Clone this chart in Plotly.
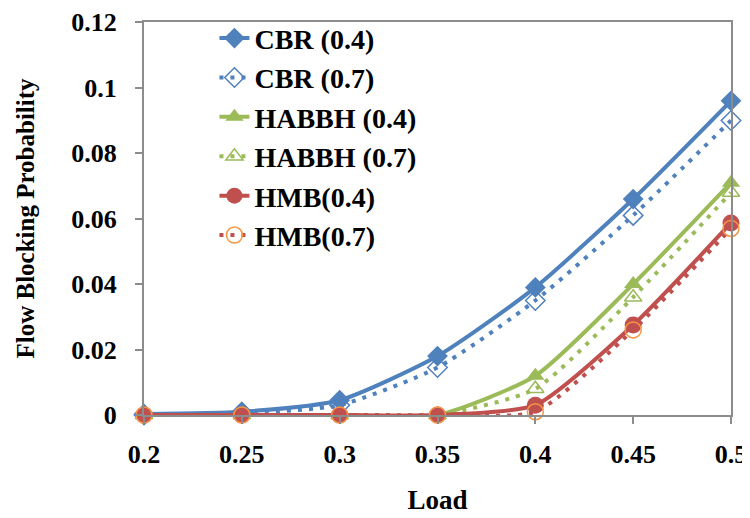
import plotly.graph_objects as go

load = [0.2, 0.25, 0.3, 0.35, 0.4, 0.45, 0.5]
load_labels = ["0.2", "0.25", "0.3", "0.35", "0.4", "0.45", "0.5"]
prob_ticks = [0, 0.02, 0.04, 0.06, 0.08, 0.1, 0.12]
prob_labels = ["0", "0.02", "0.04", "0.06", "0.08", "0.1", "0.12"]
cbr_04 = [0.0003, 0.001, 0.0045, 0.018, 0.039, 0.066, 0.096]
cbr_07 = [0.0, 0.0005, 0.003, 0.0145, 0.035, 0.061, 0.090]
habbh_04 = [0.0, 0.0, 0.0, 0.0, 0.012, 0.040, 0.071]
habbh_07 = [0.0, 0.0, 0.0, 0.0, 0.008, 0.036, 0.068]
hmb_04 = [0.0, 0.0, 0.0, 0.0, 0.003, 0.0275, 0.0587]
hmb_07 = [0.0, 0.0, 0.0, 0.0, 0.001, 0.026, 0.057]

BLUE = "#4F81BD"
GREEN = "#9BBB59"
RED = "#C0504D"
ORANGE = "#F79646"

series = [
    ("CBR (0.4)", cbr_04, BLUE, "solid", dict(symbol="diamond", size=16, color=BLUE)),
    ("CBR (0.7)", cbr_07, BLUE, "4px,7px", dict(symbol="diamond-open", size=15, color=BLUE, line=dict(width=1.5, color=BLUE))),
    ("HABBH (0.4)", habbh_04, GREEN, "solid", dict(symbol="triangle-up", size=16, color=GREEN)),
    ("HABBH (0.7)", habbh_07, GREEN, "4px,7px", dict(symbol="triangle-up-open", size=15, color=GREEN, line=dict(width=1.5, color=GREEN))),
    ("HMB(0.4)", hmb_04, RED, "solid", dict(symbol="circle", size=17, color=RED)),
    ("HMB(0.7)", hmb_07, RED, "4px,7px", dict(symbol="circle-open", size=16, color=ORANGE, line=dict(width=1.5, color=ORANGE))),
]

fig = go.Figure()
for name, vals, col, dash, marker in series:
    fig.add_trace(go.Scatter(
        x=load, y=vals, name=name, mode="lines+markers",
        line=dict(color=col, width=4, dash=dash, shape="spline", smoothing=0.6),
        marker=marker,
    ))

font_family = "Liberation Serif"
fig.update_layout(
    width=750, height=518,
    margin=dict(l=136, r=27, t=14, b=111, autoexpand=False),
    paper_bgcolor="white", plot_bgcolor="white",
    font=dict(family=font_family, size=26, color="black", weight="bold"),
    showlegend=True,
    legend=dict(x=0.12, y=1.022, xanchor="left", yanchor="top",
                bgcolor="rgba(255,255,255,0)", font=dict(size=28, family=font_family, weight="bold"),
                tracegroupgap=0, itemwidth=30),
)
fig.update_xaxes(
    range=[0.2, 0.5], tickvals=load, ticktext=load_labels,
    showgrid=False, zeroline=False, automargin=False, ticklabeloverflow="allow",
    showline=True, linecolor="#8C8C8C", linewidth=2, mirror=True,
    ticks="outside", ticklen=7, tickcolor="#8C8C8C", tickwidth=1.5,
    ticklabelstandoff=8,
    title=dict(text="Load", font=dict(size=27, family=font_family, weight="bold"), standoff=22),
    tickfont=dict(size=26, family=font_family, weight="bold"),
)
fig.update_yaxes(
    range=[0, 0.1201], tickvals=prob_ticks, ticktext=[t + "\u00a0\u00a0" for t in prob_labels],
    showgrid=False, zeroline=False, automargin=False, ticklabeloverflow="allow",
    showline=True, linecolor="#8C8C8C", linewidth=2, mirror=True,
    ticks="outside", ticklen=7, tickcolor="#8C8C8C", tickwidth=1.5,
    title=dict(text="Flow Blocking Probability", font=dict(size=25, family=font_family, weight="bold"), standoff=30),
    tickfont=dict(size=26, family=font_family, weight="bold"),
)
fig.update_traces(cliponaxis=False)
fig.write_html("out.html")
